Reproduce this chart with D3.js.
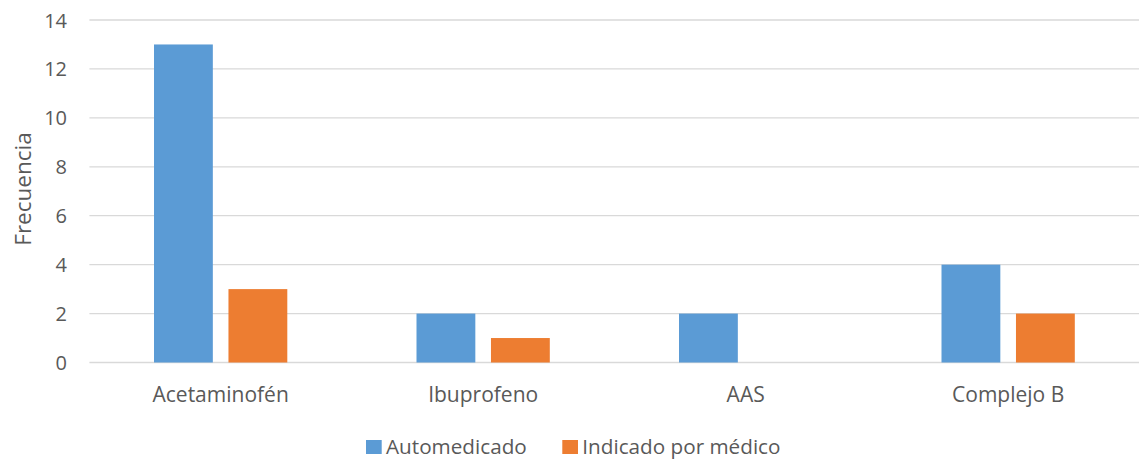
<!DOCTYPE html>
<html>
<head>
<meta charset="utf-8">
<script src="https://cdn.jsdelivr.net/npm/d3@7"></script>
<style>
  body { margin: 0; background: #fff; }
  text { font-family: "Open Sans", sans-serif; fill: #595959; }
</style>
</head>
<body>
<div id="root"></div>
<script>
var categories = ["Acetaminofén", "Ibuprofeno", "AAS", "Complejo B"];
var seriesNames = ["Automedicado", "Indicado por médico"];
var automedicado = [13, 2, 2, 4];
var indicado = [3, 1, 0, 2];
var yTicks = [0, 2, 4, 6, 8, 10, 12, 14];
var colors = ["#5b9bd5", "#ed7d31"];

var width = 1139, height = 460;
var m = { left: 89.4, right: 1139.4, top: 20, bottom: 362.5 };

var svg = d3.select("#root").append("svg")
  .attr("width", width).attr("height", height);

var x = d3.scaleBand().domain(categories).range([m.left, m.right]);
var groupW = 133.3;
var x1 = d3.scaleBand().domain(seriesNames)
  .range([(x.bandwidth() - groupW) / 2, (x.bandwidth() + groupW) / 2])
  .paddingInner(0.21);
var y = d3.scaleLinear().domain([0, 14]).range([m.bottom, m.top]);

// gridlines
svg.append("g").selectAll("line").data(yTicks).enter().append("line")
  .attr("x1", m.left).attr("x2", m.right)
  .attr("y1", d => y(d)).attr("y2", d => y(d))
  .attr("stroke", "#d9d9d9").attr("stroke-width", 1.3);

// y tick labels
svg.append("g").selectAll("text").data(yTicks).enter().append("text")
  .attr("x", 67).attr("y", d => y(d) + 7.5)
  .attr("text-anchor", "end").attr("font-size", "20px")
  .text(d => d);

// bars
var rows = categories.map((c, i) => ({ cat: c, vals: [automedicado[i], indicado[i]] }));
var g = svg.append("g").selectAll("g").data(rows).enter().append("g")
  .attr("transform", d => "translate(" + x(d.cat) + ",0)");
g.selectAll("rect").data(d => d.vals.map((v, j) => ({ s: seriesNames[j], v: v, j: j })))
  .enter().append("rect")
  .attr("x", d => x1(d.s)).attr("width", x1.bandwidth())
  .attr("y", d => y(d.v)).attr("height", d => y(0) - y(d.v))
  .attr("fill", d => colors[d.j]);

// x labels
svg.append("g").selectAll("text").data(categories).enter().append("text")
  .attr("x", d => x(d) + x.bandwidth() / 2).attr("y", 402)
  .attr("text-anchor", "middle").attr("font-size", "21px")
  .text(d => d);

// y title
svg.append("text")
  .attr("transform", "translate(30.5,189) rotate(-90)")
  .attr("text-anchor", "middle").attr("font-size", "22.5px")
  .text("Frecuencia");

// legend
var legX = [366, 562.3];
var leg = svg.append("g").selectAll("g").data(seriesNames).enter().append("g")
  .attr("transform", (d, i) => "translate(" + legX[i] + ",440)");
leg.append("rect").attr("width", 15.7).attr("height", 14)
  .attr("fill", (d, i) => colors[i]);
leg.append("text").attr("x", 20).attr("y", 14).attr("font-size", "20.7px")
  .text(d => d);
</script>
</body>
</html>
